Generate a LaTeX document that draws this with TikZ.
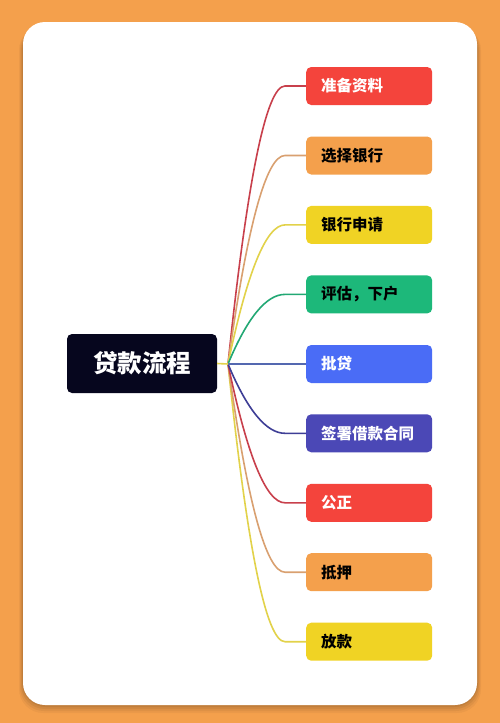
\documentclass[tikz,border=0pt]{standalone}
\usepackage{fontspec}
\setmainfont{Noto Sans CJK SC}
\usetikzlibrary{calc}
\definecolor{bgorange}{HTML}{F4A04C}
\definecolor{cred}{HTML}{F4443C}
\definecolor{corange}{HTML}{F4A04C}
\definecolor{cyellow}{HTML}{F0D324}
\definecolor{cgreen}{HTML}{1DB87A}
\definecolor{cblue}{HTML}{4A6CF6}
\definecolor{cindigo}{HTML}{4B48B6}
\definecolor{cnavy}{HTML}{06061E}
\definecolor{ered}{HTML}{C8404C}
\definecolor{eorange}{HTML}{D9A070}
\definecolor{eyellow}{HTML}{E2D24A}
\definecolor{egreen}{HTML}{22A874}
\definecolor{eblue}{HTML}{5468B0}
\definecolor{eindigo}{HTML}{3E3E96}
\tikzset{
  leaf/.style={rounded corners=5pt, anchor=west, minimum height=38pt, inner xsep=15pt, inner ysep=0pt, text width=96pt, align=left, font=\bfseries\fontsize{15.5}{17}\selectfont},
  root/.style={rounded corners=5pt, fill=cnavy, text=white, minimum width=150pt, minimum height=59pt, inner sep=0pt, font=\bfseries\fontsize{24.5}{27}\selectfont},
  edge/.style={line width=1.6pt}
}
\begin{document}
\begin{tikzpicture}[x=1pt,y=-1pt]
\useasboundingbox (0,0) rectangle (500,723);
\fill[bgorange] (0,0) rectangle (500,723);
% card shadow
\foreach \k/\o in {8/0.04,6/0.05,4/0.06,2/0.07}{
  \fill[black,opacity=\o,rounded corners=24pt] (23-\k*0.5,26) rectangle (477+\k*0.5,705+\k);
}
\fill[white,rounded corners=22pt] (23,22) rectangle (477,705);
% root
\node[root] (root) at (142,363.5) {贷款流程};
\coordinate (O) at (228,364);
\coordinate (cx) at (257,0);
% leaves
\node[leaf,fill=cred,text=white] (b1) at (306,86) {准备资料};
\node[leaf,fill=corange,text=black] (b2) at (306,155.5) {选择银行};
\node[leaf,fill=cyellow,text=black] (b3) at (306,224.9) {银行申请};
\node[leaf,fill=cgreen,text=black] (b4) at (306,294.4) {评估，下户};
\node[leaf,fill=cblue,text=white] (b5) at (306,364) {批贷};
\node[leaf,fill=cindigo,text=white] (b6) at (306,433.3) {签署借款合同};
\node[leaf,fill=cred,text=white] (b7) at (306,502.8) {公正};
\node[leaf,fill=corange,text=black] (b8) at (306,572.2) {抵押};
\node[leaf,fill=cyellow,text=black] (b9) at (306,641.7) {放款};
% edges
\foreach \n/\c in {9/eyellow,8/eorange,7/ered,1/ered,2/eorange,3/eyellow,4/egreen,6/eindigo}{
  \path (b\n.west) ++(-21,0) coordinate (e\n);
  \coordinate (c\n) at (cx |- b\n.west);
  \draw[edge,\c] (O) .. controls ($(O)!0.667!(c\n)$) and ($(e\n)!0.667!(c\n)$) .. (e\n) -- (b\n.west);
}
\draw[edge,eblue] (O) -- (b5.west);
\draw[edge,eyellow] (root.east) -- (O);
\end{tikzpicture}
\end{document}
